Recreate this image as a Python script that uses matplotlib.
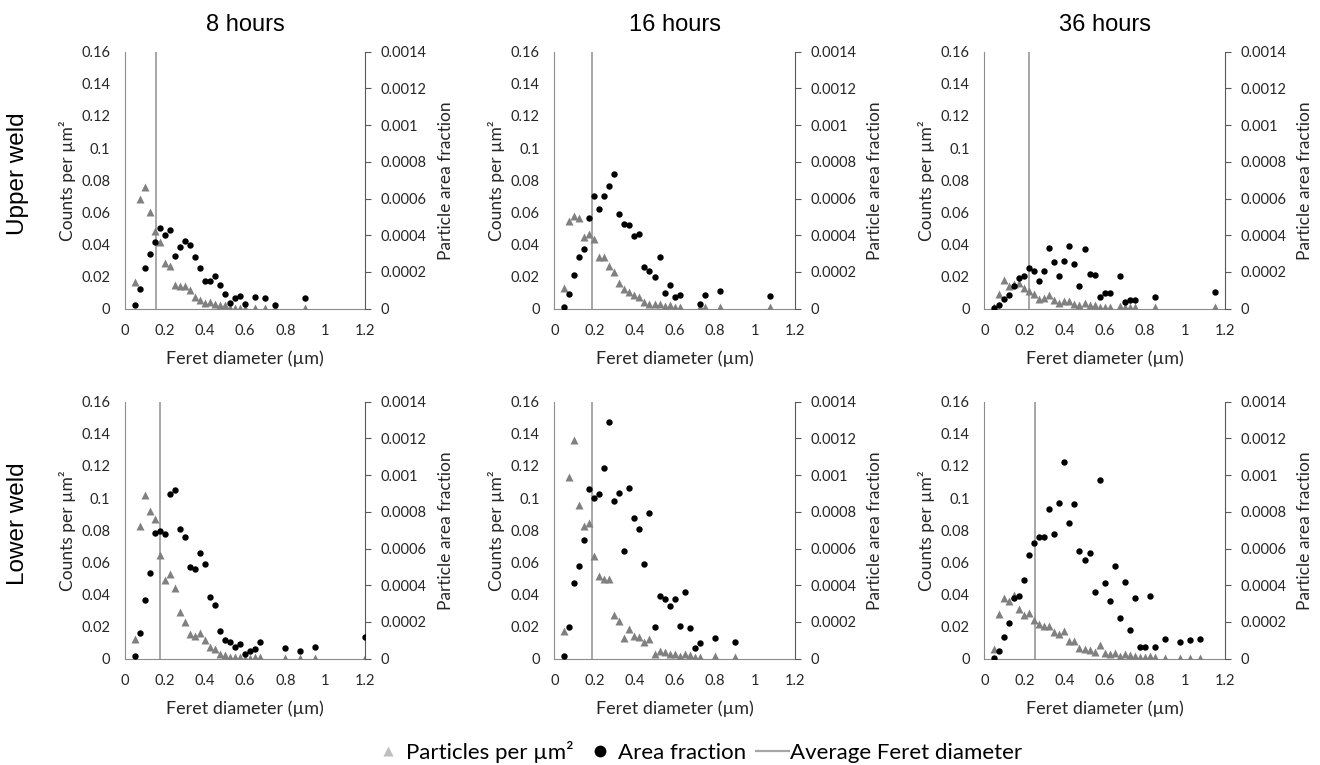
# feret_panels.py
# Particle counts and area fraction vs Feret diameter, upper/lower weld, 3 ageing times

import matplotlib.pyplot as plt
from matplotlib.lines import Line2D
from matplotlib.ticker import FuncFormatter

plt.rcParams['font.family'] = ['Lato', 'DejaVu Sans']

# ---- data ----
# upper weld, 8 hours
up8_x = [0.05, 0.075, 0.1, 0.125, 0.15, 0.175, 0.2, 0.225, 0.25, 0.275, 0.3, 0.325, 0.35, 0.375,
         0.4, 0.425, 0.45, 0.475, 0.5, 0.525, 0.55, 0.575, 0.6, 0.65, 0.7, 0.75, 0.9]
up8_counts = [0.0164, 0.0685, 0.0755, 0.0604, 0.0486, 0.0417, 0.0286, 0.0268, 0.0147, 0.0139, 0.0139,
              0.0114, 0.0071, 0.0054, 0.0035, 0.004, 0.003, 0.002, 0.002, 0.0006, 0.0005, 0.0005,
              0.0005, 0.0005, 0.0002, 0.0002, 0.0002]
up8_area = [0.18e-4, 1.09e-4, 2.23e-4, 2.96e-4, 3.61e-4, 4.39e-4, 4.01e-4, 4.27e-4, 2.89e-4, 3.36e-4,
            3.69e-4, 3.47e-4, 2.83e-4, 2.20e-4, 1.53e-4, 1.53e-4, 1.80e-4, 1.27e-4, 0.82e-4, 0.33e-4,
            0.56e-4, 0.67e-4, 0.27e-4, 0.64e-4, 0.58e-4, 0.22e-4, 0.58e-4]

# upper weld, 16 hours
up16_x = [0.05, 0.075, 0.1, 0.125, 0.15, 0.175, 0.2, 0.225, 0.25, 0.275, 0.3, 0.325, 0.35, 0.375,
          0.4, 0.425, 0.45, 0.475, 0.5, 0.525, 0.55, 0.575, 0.6, 0.625, 0.725, 0.75, 0.825, 1.075]
up16_counts = [0.0131, 0.0546, 0.0575, 0.0562, 0.0448, 0.0467, 0.0436, 0.0322, 0.0322, 0.0266, 0.023,
               0.0158, 0.0125, 0.0106, 0.0087, 0.0075, 0.0042, 0.0029, 0.0027, 0.0031, 0.0017, 0.0021,
               0.0008, 0.001, 0.001, 0.0008, 0.0008, 0.0008]
up16_area = [0.11e-4, 0.82e-4, 1.82e-4, 2.83e-4, 3.25e-4, 4.92e-4, 6.16e-4, 5.41e-4, 6.16e-4, 6.70e-4,
             7.34e-4, 5.18e-4, 4.61e-4, 4.58e-4, 3.98e-4, 4.07e-4, 2.25e-4, 2.07e-4, 1.71e-4, 2.81e-4,
             0.87e-4, 1.27e-4, 0.64e-4, 0.76e-4, 0.24e-4, 0.73e-4, 0.94e-4, 0.69e-4]

# upper weld, 36 hours
up36_x = [0.05, 0.075, 0.1, 0.125, 0.15, 0.175, 0.2, 0.225, 0.25, 0.275, 0.3, 0.325, 0.35, 0.375,
          0.4, 0.425, 0.45, 0.475, 0.5, 0.525, 0.55, 0.575, 0.6, 0.625, 0.675, 0.7, 0.725, 0.75,
          0.85, 1.15]
up36_counts = [0.001, 0.0093, 0.0178, 0.0143, 0.0151, 0.0158, 0.0127, 0.0108, 0.0091, 0.0058, 0.0068,
               0.0083, 0.0054, 0.0035, 0.005, 0.005, 0.0031, 0.0025, 0.0035, 0.0023, 0.0023, 0.0012,
               0.0008, 0.0012, 0.0017, 0.0008, 0.0008, 0.0008, 0.0008, 0.0008]
up36_area = [0.04e-4, 0.18e-4, 0.53e-4, 0.75e-4, 1.25e-4, 1.69e-4, 1.76e-4, 2.22e-4, 2.03e-4, 1.51e-4,
             2.03e-4, 3.30e-4, 2.52e-4, 1.78e-4, 2.61e-4, 3.43e-4, 2.42e-4, 1.22e-4, 3.23e-4, 1.87e-4,
             1.82e-4, 0.65e-4, 0.84e-4, 0.87e-4, 1.76e-4, 0.36e-4, 0.45e-4, 0.45e-4, 0.62e-4, 0.93e-4]

# lower weld, 8 hours
lo8_x = [0.05, 0.075, 0.1, 0.125, 0.15, 0.175, 0.2, 0.225, 0.25, 0.275, 0.3, 0.325, 0.35, 0.375,
         0.4, 0.425, 0.45, 0.475, 0.5, 0.525, 0.55, 0.575, 0.6, 0.625, 0.65, 0.675, 0.8, 0.875,
         0.95, 1.2]
lo8_counts = [0.0123, 0.0829, 0.102, 0.0918, 0.0869, 0.0646, 0.049, 0.053, 0.044, 0.0291, 0.0226,
              0.0156, 0.0143, 0.0158, 0.0116, 0.0071, 0.0058, 0.0027, 0.0021, 0.0012, 0.0008, 0.0012,
              0.0004, 0.0004, 0.0008, 0.0012, 0.0004, 0.0004, 0.0004, 0.0004]
lo8_area = [0.15e-4, 1.40e-4, 3.20e-4, 4.69e-4, 6.85e-4, 6.98e-4, 6.78e-4, 8.98e-4, 9.20e-4, 7.09e-4,
            6.65e-4, 5.00e-4, 4.91e-4, 5.78e-4, 5.18e-4, 3.35e-4, 2.95e-4, 1.49e-4, 1.02e-4, 0.91e-4,
            0.64e-4, 0.78e-4, 0.24e-4, 0.40e-4, 0.51e-4, 0.93e-4, 0.58e-4, 0.40e-4, 0.62e-4, 1.16e-4]

# lower weld, 16 hours
lo16_x = [0.05, 0.075, 0.1, 0.125, 0.15, 0.175, 0.2, 0.225, 0.25, 0.275, 0.3, 0.325, 0.35, 0.375,
          0.4, 0.425, 0.45, 0.475, 0.5, 0.525, 0.55, 0.575, 0.6, 0.625, 0.65, 0.675, 0.7, 0.725,
          0.8, 0.9]
lo16_counts = [0.0175, 0.113, 0.136, 0.0956, 0.0825, 0.0842, 0.064, 0.0517, 0.0497, 0.0497, 0.0272,
               0.0233, 0.0131, 0.0185, 0.0141, 0.0133, 0.0106, 0.0123, 0.0027, 0.005, 0.0042, 0.0031,
               0.0031, 0.0019, 0.0031, 0.0021, 0.0008, 0.0008, 0.0017, 0.0008]
lo16_area = [0.16e-4, 1.71e-4, 4.13e-4, 5.05e-4, 6.49e-4, 9.22e-4, 8.75e-4, 8.95e-4, 10.4e-4, 12.9e-4,
             8.60e-4, 9.05e-4, 5.84e-4, 9.31e-4, 7.69e-4, 7.05e-4, 5.16e-4, 7.95e-4, 1.75e-4, 3.40e-4,
             3.27e-4, 2.89e-4, 3.24e-4, 1.78e-4, 3.62e-4, 1.67e-4, 0.58e-4, 0.86e-4, 1.15e-4, 0.89e-4]

# lower weld, 36 hours
lo36_x = [0.05, 0.075, 0.1, 0.125, 0.15, 0.175, 0.2, 0.225, 0.25, 0.275, 0.3, 0.325, 0.35, 0.375,
          0.4, 0.425, 0.45, 0.475, 0.5, 0.525, 0.55, 0.575, 0.6, 0.625, 0.65, 0.675, 0.7, 0.725,
          0.75, 0.775, 0.8, 0.825, 0.85, 0.9, 0.975, 1.025, 1.075]
lo36_counts = [0.0062, 0.0276, 0.0376, 0.036, 0.0395, 0.031, 0.027, 0.0285, 0.0239, 0.0218, 0.0206,
               0.0202, 0.0164, 0.0152, 0.017, 0.0112, 0.0112, 0.0069, 0.006, 0.0056, 0.0039, 0.0083,
               0.0037, 0.0027, 0.0033, 0.0019, 0.0027, 0.0021, 0.0019, 0.0008, 0.0008, 0.0015, 0.0008,
               0.0004, 0.0004, 0.0004, 0.0004]
lo36_area = [0.04e-4, 0.42e-4, 1.18e-4, 1.93e-4, 3.31e-4, 3.40e-4, 4.29e-4, 5.65e-4, 6.31e-4, 6.64e-4,
             6.64e-4, 8.18e-4, 6.80e-4, 8.47e-4, 10.7e-4, 7.40e-4, 8.44e-4, 5.87e-4, 5.38e-4, 5.78e-4,
             3.62e-4, 9.71e-4, 4.15e-4, 3.13e-4, 5.04e-4, 2.20e-4, 4.18e-4, 1.58e-4, 3.31e-4, 0.66e-4,
             0.66e-4, 3.40e-4, 0.64e-4, 1.05e-4, 0.93e-4, 1.00e-4, 1.07e-4]

# average Feret diameter per panel (um)
avg_feret_upper = [0.156, 0.188, 0.223]
avg_feret_lower = [0.176, 0.188, 0.252]

col_titles = ['8 hours', '16 hours', '36 hours']
row_titles = ['Upper weld', 'Lower weld']
x_ticks = [0, 0.2, 0.4, 0.6, 0.8, 1, 1.2]
count_ticks = [0, 0.02, 0.04, 0.06, 0.08, 0.1, 0.12, 0.14, 0.16]
area_ticks = [0, 0.0002, 0.0004, 0.0006, 0.0008, 0.001, 0.0012, 0.0014]

panels = [
    [(up8_x, up8_counts, up8_area), (up16_x, up16_counts, up16_area), (up36_x, up36_counts, up36_area)],
    [(lo8_x, lo8_counts, lo8_area), (lo16_x, lo16_counts, lo16_area), (lo36_x, lo36_counts, lo36_area)],
]
avg_feret = [avg_feret_upper, avg_feret_lower]

W, H = 1320, 765
fig = plt.figure(figsize=(W / 100, H / 100), dpi=100)

# axes placement in pixels
lefts = [125, 554.3, 984.3]
tops = [51.7, 401.7]
aw, ah = 240.5, 257

fmt = FuncFormatter(lambda v, p: '%g' % v)
tri_color = '#808080'
spine_color = '#8c8c8c'
text_color = '#262626'

for r in range(2):
    for c in range(3):
        xs, counts, area = panels[r][c]
        ax = fig.add_axes([lefts[c] / W, (H - tops[r] - ah) / H, aw / W, ah / H])
        ax2 = ax.twinx()

        ax.axvline(avg_feret[r][c], color='#a6a6a6', lw=1.4, zorder=1)
        ax.plot(xs, counts, linestyle='none', marker='^', ms=5.5, color=tri_color, mec='none', zorder=3)
        ax2.plot(xs, area, linestyle='none', marker='o', ms=4.6, color='black', mec='none', zorder=3)

        ax.set_xlim(0, 1.2)
        ax.set_ylim(0, 0.16)
        ax2.set_ylim(0, 0.0014)
        ax.set_xticks(x_ticks)
        ax.set_yticks(count_ticks)
        ax2.set_yticks(area_ticks)
        ax.xaxis.set_major_formatter(fmt)
        ax.yaxis.set_major_formatter(fmt)
        ax2.yaxis.set_major_formatter(fmt)

        for s in ['top', 'right']:
            ax.spines[s].set_visible(False)
        for s in ['top', 'left', 'bottom']:
            ax2.spines[s].set_visible(False)
        ax.spines['left'].set_color(spine_color)
        ax.spines['bottom'].set_color(spine_color)
        ax2.spines['right'].set_color('#595959')

        ax.tick_params(axis='both', length=0, labelsize=10.5, colors=text_color)
        ax.tick_params(axis='y', pad=10.5)
        ax.tick_params(axis='x', pad=11)
        ax2.tick_params(axis='y', length=4, width=0.8, color='#595959', pad=7, labelsize=10.5,
                        labelcolor=text_color)

        ax.set_xlabel('Feret diameter (µm)', fontsize=13, labelpad=9, color=text_color)
        ax.set_ylabel('Counts per µm²', fontsize=12.5, labelpad=4, color=text_color)
        ax2.set_ylabel('Particle area fraction', fontsize=12.5, labelpad=8, color=text_color)

# column titles and row labels
for c in range(3):
    fig.text((lefts[c] + aw / 2) / W, 1 - 25 / H, col_titles[c], ha='center', va='center',
             fontsize=17, family='Liberation Sans')
for r in range(2):
    fig.text(18 / W, 1 - (tops[r] + 122) / H, row_titles[r], ha='center', va='center',
             rotation=90, fontsize=17.5, family='Liberation Sans')

# legend across the bottom
handles = [
    Line2D([], [], linestyle='none', marker='^', ms=7.5, color='#bfbfbf', mec='none'),
    Line2D([], [], linestyle='none', marker='o', ms=8.5, color='black', mec='none'),
    Line2D([], [], color='#a6a6a6', lw=1.6),
]
labels = ['Particles per µm²', 'Area fraction', 'Average Feret diameter']
fig.legend(handles, labels, loc='center', bbox_to_anchor=(697 / W, 1 - 752 / H), ncol=3, frameon=False,
           fontsize=16, handlelength=1.5, handletextpad=0.05, columnspacing=0.45)

fig.savefig('out.png', dpi=100)
